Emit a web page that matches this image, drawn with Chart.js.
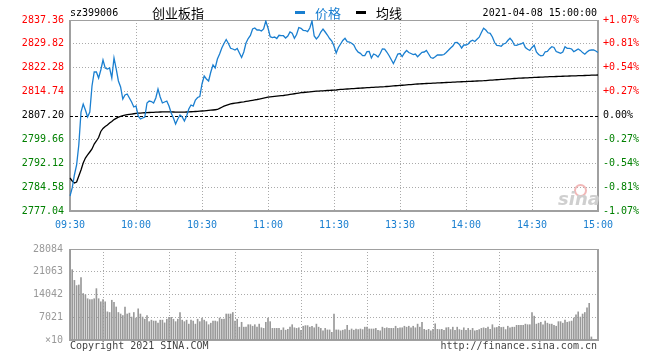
<!DOCTYPE html>
<html><head><meta charset="utf-8">
<script src="https://cdn.jsdelivr.net/npm/chart.js@4/dist/chart.umd.min.js"></script>
<style>
body{margin:0;width:660px;height:360px;background:#fff;position:relative;overflow:hidden;font-family:"DejaVu Sans Mono",monospace}
canvas{position:absolute;left:0}
#c1{top:0}
#c2{top:236px}
.t{position:absolute;white-space:nowrap;font-size:10px;line-height:12px;font-family:"DejaVu Sans Mono",monospace}
.cjk{position:absolute;white-space:nowrap;font-size:13px;line-height:15px;font-family:"Noto Sans CJK SC",sans-serif}
.bar{position:absolute;height:3px;width:10px}
</style></head><body>
<canvas id="c1" width="660" height="235"></canvas>
<canvas id="c2" width="660" height="124"></canvas>
<div class="t" style="left:70px;top:6.5px;color:#000">sz399006</div>
<div class="cjk" style="left:152px;top:5px;color:#000">创业板指</div>
<div class="bar" style="left:295px;top:11px;background:#1a7fd0"></div>
<div class="cjk" style="left:315px;top:5px;color:#1a7fd0">价格</div>
<div class="bar" style="left:356px;top:11px;background:#000"></div>
<div class="cjk" style="left:376px;top:5px;color:#000">均线</div>
<div class="t" style="right:63px;top:6.5px;color:#000">2021-04-08 15:00:00</div>
<div class="t" style="left:70px;top:340px;color:#444">Copyright 2021 SINA.COM</div>
<div class="t" style="right:63px;top:340px;color:#444">http://finance.sina.com.cn</div>
<div style="position:absolute;left:574px;top:184px;width:9px;height:9px;border-radius:50%;border:2px solid #f2b8b8"></div>
<div style="position:absolute;left:558px;top:188px;font:italic bold 18px 'DejaVu Sans',sans-serif;color:#cfcfcf">sina</div>
<script>
const prevClose = 2807.20;
const priceTicks = [2777.04, 2784.58, 2792.12, 2799.66, 2807.20, 2814.74, 2822.28, 2829.82, 2837.36];
const volumeTicks = [0, 7021, 14042, 21063, 28084];
const timeTickIndex = [0, 30, 60, 90, 120, 150, 180, 210, 240];

const times = [];
function pushRange(h0, m0, h1, m1) {
  for (let t = h0 * 60 + m0; t <= h1 * 60 + m1; t++) {
    times.push(String(Math.floor(t / 60)).padStart(2, '0') + ':' + String(t % 60).padStart(2, '0'));
  }
}
pushRange(9, 30, 11, 30);
pushRange(13, 1, 15, 0);

const price = [
2781.78,2784.31,2788.41,2791.57,2797.88,2808.31,2810.83,2808.94,2806.73,2808.31,
2816.52,2820.94,2820.94,2819.04,2821.57,2824.73,2822.20,2821.89,2822.20,2819.04,
2825.36,2821.89,2818.10,2816.20,2812.41,2813.67,2813.99,2812.73,2811.46,2809.89,
2810.20,2807.04,2806.10,2806.41,2806.73,2811.15,2811.78,2811.62,2811.15,2812.73,
2815.57,2813.04,2811.15,2811.46,2811.78,2810.20,2807.99,2806.41,2804.52,2806.10,
2807.36,2806.73,2805.46,2807.04,2809.25,2810.52,2810.20,2812.10,2812.89,2813.20,
2817.15,2819.68,2818.73,2818.10,2820.94,2823.15,2822.20,2825.04,2826.62,2828.52,
2829.94,2831.20,2829.94,2828.42,2828.20,2827.89,2828.36,2826.94,2825.52,2827.25,
2830.10,2831.52,2832.47,2834.52,2834.83,2834.20,2834.20,2833.89,2834.52,2837.04,
2834.83,2832.09,2831.83,2831.99,2831.52,2832.53,2832.40,2832.40,2831.68,2832.31,
2833.57,2833.16,2831.58,2832.78,2834.99,2834.74,2834.11,2834.04,2833.70,2834.83,
2837.04,2832.31,2831.36,2832.15,2833.57,2834.52,2833.57,2832.62,2831.52,2830.73,
2829.15,
2826.94,2828.68,2829.78,2830.89,2831.58,2830.51,2830.41,2830.00,2829.46,
2828.04,2827.19,2826.84,2826.12,2826.15,2827.35,2827.41,2825.36,2826.62,2826.31,
2825.68,2826.78,2828.26,2828.20,2827.25,2826.15,2824.89,2823.62,2825.04,2826.62,
2826.78,2825.83,2826.94,2827.73,2827.10,2826.78,2826.46,2826.62,2825.77,2826.46,
2827.16,2827.25,2827.73,2826.62,2825.52,2825.26,2825.77,2826.31,2826.31,2826.31,
2826.46,2827.10,2827.79,2828.52,2829.15,2830.19,2830.29,2829.62,2828.52,2829.46,
2829.46,2829.78,2830.63,2830.98,2830.57,2831.27,2831.93,2833.41,2834.77,2834.20,
2833.32,2833.16,2831.99,2830.25,2829.31,2829.24,2829.05,2829.78,2830.00,2830.89,
2831.61,2830.79,2829.40,2829.37,2829.65,2829.78,2830.22,2828.68,2828.11,2827.73,
2828.68,2829.40,2827.25,2826.46,2826.05,2826.15,2827.32,2827.41,2828.30,2828.93,
2828.68,2827.41,2827.16,2826.84,2827.25,2828.93,2828.42,2828.42,2828.20,2827.35,
2827.76,2828.20,2827.76,2827.06,2826.56,2827.25,2827.76,2827.89,2827.89,2827.57,
2827.10
];

const avgPrice = [
2787.46,2786.52,2785.88,2786.20,2788.10,2789.99,2792.20,2793.78,2794.73,2795.67,
2796.62,2798.20,2799.15,2800.25,2802.15,2803.10,2803.73,2804.20,2804.83,2805.31,
2805.90,2806.30,2806.70,2806.95,2807.15,2807.30,2807.45,2807.55,2807.65,2807.75,
2807.85,2807.94,2807.98,2808.03,2808.07,2808.11,2808.15,2808.18,2808.21,2808.24,
2808.27,2808.30,2808.33,2808.36,2808.36,2808.35,2808.33,2808.30,2808.27,2808.25,
2808.25,2808.26,2808.28,2808.31,2808.35,2808.39,2808.43,2808.47,2808.52,2808.57,
2808.62,2808.68,2808.74,2808.80,2808.87,2808.94,2809.02,2809.10,2809.45,2809.80,
2810.15,2810.40,2810.65,2810.88,2810.99,2811.10,2811.21,2811.31,2811.42,2811.52,
2811.64,2811.76,2811.88,2812.00,2812.13,2812.25,2812.40,2812.55,2812.70,2812.85,
2812.99,2813.07,2813.15,2813.22,2813.30,2813.37,2813.45,2813.52,2813.63,2813.74,
2813.85,2813.96,2814.07,2814.18,2814.30,2814.40,2814.47,2814.54,2814.61,2814.68,
2814.75,2814.82,2814.88,2814.92,2814.96,2815.00,2815.05,2815.09,2815.13,2815.17,
2815.20,
2815.26,2815.34,2815.42,2815.48,2815.53,2815.57,2815.62,2815.66,2815.71,
2815.75,2815.80,2815.84,2815.89,2815.93,2815.98,2816.02,2816.06,2816.10,2816.14,
2816.18,2816.22,2816.26,2816.30,2816.36,2816.42,2816.47,2816.53,2816.59,2816.64,
2816.70,2816.76,2816.81,2816.87,2816.93,2816.98,2817.04,2817.10,2817.15,2817.19,
2817.22,2817.26,2817.30,2817.33,2817.37,2817.40,2817.44,2817.48,2817.51,2817.55,
2817.58,2817.62,2817.66,2817.69,2817.72,2817.76,2817.79,2817.82,2817.86,2817.89,
2817.92,2817.96,2817.99,2818.02,2818.06,2818.09,2818.12,2818.16,2818.19,2818.24,
2818.29,2818.34,2818.39,2818.44,2818.49,2818.54,2818.59,2818.64,2818.69,2818.74,
2818.79,2818.84,2818.89,2818.95,2818.98,2819.01,2819.05,2819.08,2819.11,2819.15,
2819.18,2819.21,2819.25,2819.28,2819.31,2819.35,2819.38,2819.41,2819.45,2819.47,
2819.50,2819.52,2819.55,2819.57,2819.60,2819.62,2819.64,2819.67,2819.69,2819.72,
2819.74,2819.77,2819.79,2819.82,2819.84,2819.87,2819.89,2819.92,2819.94,2819.97,
2819.99
];

const volume = [
28084,21700,18400,16790,16980,19240,14340,13960,12740,12450,
12450,12740,15850,12740,11790,12450,11790,8690,8490,12260,
11600,10190,8490,8020,7550,10190,8020,8300,7080,8490,
6790,9620,8020,7080,6420,7550,5660,6130,5850,5850,
5190,6130,6130,5280,6420,7000,7000,6420,5660,6420,
8490,6130,5660,6130,4900,6130,5850,4900,6420,5660,
6790,6130,5660,4720,5190,5850,5850,5660,6790,6420,
6420,8020,8020,8020,8490,5850,6420,3960,5470,3960,
3960,4720,4720,4250,4720,3960,4900,3770,3590,5470,
6790,5660,3590,3590,3590,3590,3020,3770,3020,3300,
3960,4720,3770,3590,3770,3020,4250,4430,4430,3960,
4250,3770,4900,3960,3590,2830,3590,3110,3110,2360,
8020,
3110,3110,2830,3020,3210,4530,3020,3400,3020,
3400,3210,3400,3210,3960,3960,3400,3400,3400,3590,
3020,2830,3960,3590,3770,3590,3590,3590,4250,3590,
3770,3770,4250,3960,4250,3770,4250,3770,4900,3960,
5470,3300,3020,3300,2830,3300,5000,3300,3210,3300,
3020,3770,3870,3210,3960,3020,3960,3210,3020,3770,
3020,3590,3020,3590,2830,3020,3210,3590,3770,3590,
3960,3300,4720,3770,3870,4250,3870,3960,3210,4250,
3770,3960,3960,4530,4530,4530,4530,4900,4720,4720,
8490,7360,4900,5190,5470,4720,5850,5190,4900,4900,
4530,4250,5660,5660,5190,6130,5470,5660,5850,6790,
7740,8680,7080,8020,8490,9900,11320,940,0,0,
0
];

const RED = '#ff0000', GREEN = '#008000', BLUE = '#1a7fd0', GRID = '#aaaaaa', FRAME = '#a0a0a0';
const MONO = {family: 'DejaVu Sans Mono', size: 10};

function priceColor(v) {
  if (Math.abs(v - prevClose) < 0.005) return '#000';
  return v > prevClose ? RED : GREEN;
}
function pctLabel(v) {
  const p = (v - prevClose) / prevClose * 100;
  if (Math.abs(p) < 0.005) return '0.00%';
  return (p > 0 ? '+' : '') + p.toFixed(2) + '%';
}
const isEdge = v => v === 0 || v === times.length - 1;

const framePlugin = {
  id: 'frame',
  beforeDatasetsDraw(chart, args, opts) {
    const {ctx, chartArea: a} = chart;
    ctx.save();
    ctx.strokeStyle = FRAME;
    ctx.lineWidth = 1;
    ctx.beginPath(); ctx.moveTo(a.left, a.top + 0.5); ctx.lineTo(a.right, a.top + 0.5); ctx.stroke();
    ctx.lineWidth = 2;
    ctx.beginPath();
    ctx.moveTo(a.left, a.top); ctx.lineTo(a.left, a.bottom); ctx.lineTo(a.right, a.bottom); ctx.lineTo(a.right, a.top);
    ctx.stroke();
    if (opts.prevClose) {
      const y = Math.round(chart.scales.y.getPixelForValue(prevClose)) + 0.5;
      ctx.strokeStyle = '#000'; ctx.lineWidth = 1; ctx.setLineDash([3, 2]);
      ctx.beginPath(); ctx.moveTo(a.left, y); ctx.lineTo(a.right, y); ctx.stroke();
    }
    ctx.restore();
  }
};

const xCommon = {
  type: 'category', offset: false,
  afterBuildTicks: s => { s.ticks = timeTickIndex.map(v => ({value: v})); },
  grid: {color: c => (c.tick && isEdge(c.tick.value)) ? 'rgba(0,0,0,0)' : GRID, drawTicks: false, lineWidth: 1},
  border: {display: false, dash: [1, 2]}
};

new Chart(document.getElementById('c1'), {
  type: 'line',
  data: {labels: times, datasets: [
    {data: price, borderColor: BLUE, borderWidth: 1.3, pointRadius: 0, tension: 0, yAxisID: 'y'},
    {data: avgPrice, borderColor: '#000', borderWidth: 1.3, pointRadius: 0, tension: 0, yAxisID: 'y'}
  ]},
  plugins: [framePlugin],
  options: {
    responsive: false, animation: false, events: [],
    layout: {padding: {top: 20, left: 0, right: 0, bottom: 0}},
    plugins: {legend: {display: false}, tooltip: {enabled: false}, frame: {prevClose: true}},
    scales: {
      x: Object.assign({}, xCommon, {
        afterFit: s => { s.height = 24; },
        ticks: {autoSkip: false, maxRotation: 0, minRotation: 0, padding: 8, color: BLUE, font: MONO,
          callback: (v, i) => times[timeTickIndex[i]]}
      }),
      y: {
        position: 'left', min: priceTicks[0], max: priceTicks[priceTicks.length - 1],
        afterBuildTicks: s => { s.ticks = priceTicks.map(v => ({value: v})); },
        afterFit: s => { s.width = 70; },
        grid: {color: c => (c.tick && (c.tick.value === prevClose || c.index === 0 || c.index === priceTicks.length - 1)) ? 'rgba(0,0,0,0)' : GRID, drawTicks: false},
        border: {display: false, dash: [1, 2]},
        ticks: {autoSkip: false, padding: 6, font: MONO, color: c => priceColor(c.tick.value), callback: v => v.toFixed(2)}
      },
      y2: {
        position: 'right', min: priceTicks[0], max: priceTicks[priceTicks.length - 1],
        afterBuildTicks: s => { s.ticks = priceTicks.map(v => ({value: v})); },
        afterFit: s => { s.width = 62; },
        grid: {display: false, drawTicks: false},
        border: {display: false},
        ticks: {autoSkip: false, padding: 5, font: MONO, color: c => priceColor(c.tick.value), callback: v => pctLabel(v)}
      }
    }
  }
});

new Chart(document.getElementById('c2'), {
  type: 'bar',
  data: {labels: times, datasets: [
    {data: volume, backgroundColor: '#999999', barThickness: 1, categoryPercentage: 1, barPercentage: 1}
  ]},
  plugins: [framePlugin],
  options: {
    responsive: false, animation: false, events: [],
    layout: {padding: {top: 4.7, left: 0, right: 62, bottom: 0}},
    plugins: {legend: {display: false}, tooltip: {enabled: false}, frame: {prevClose: false}},
    scales: {
      x: Object.assign({}, xCommon, {
        afterFit: s => { s.height = 20; },
        ticks: {display: false}
      }),
      y: {
        position: 'left', min: 0, max: volumeTicks[volumeTicks.length - 1],
        afterBuildTicks: s => { s.ticks = volumeTicks.map(v => ({value: v})); },
        afterFit: s => { s.width = 70; },
        grid: {color: c => (c.index === 0 || c.index === volumeTicks.length - 1) ? 'rgba(0,0,0,0)' : GRID, drawTicks: false},
        border: {display: false, dash: [1, 2]},
        ticks: {autoSkip: false, padding: 7, font: MONO, color: '#999999', callback: v => v === 0 ? '×10' : String(v)}
      }
    }
  }
});
</script>
</body></html>
